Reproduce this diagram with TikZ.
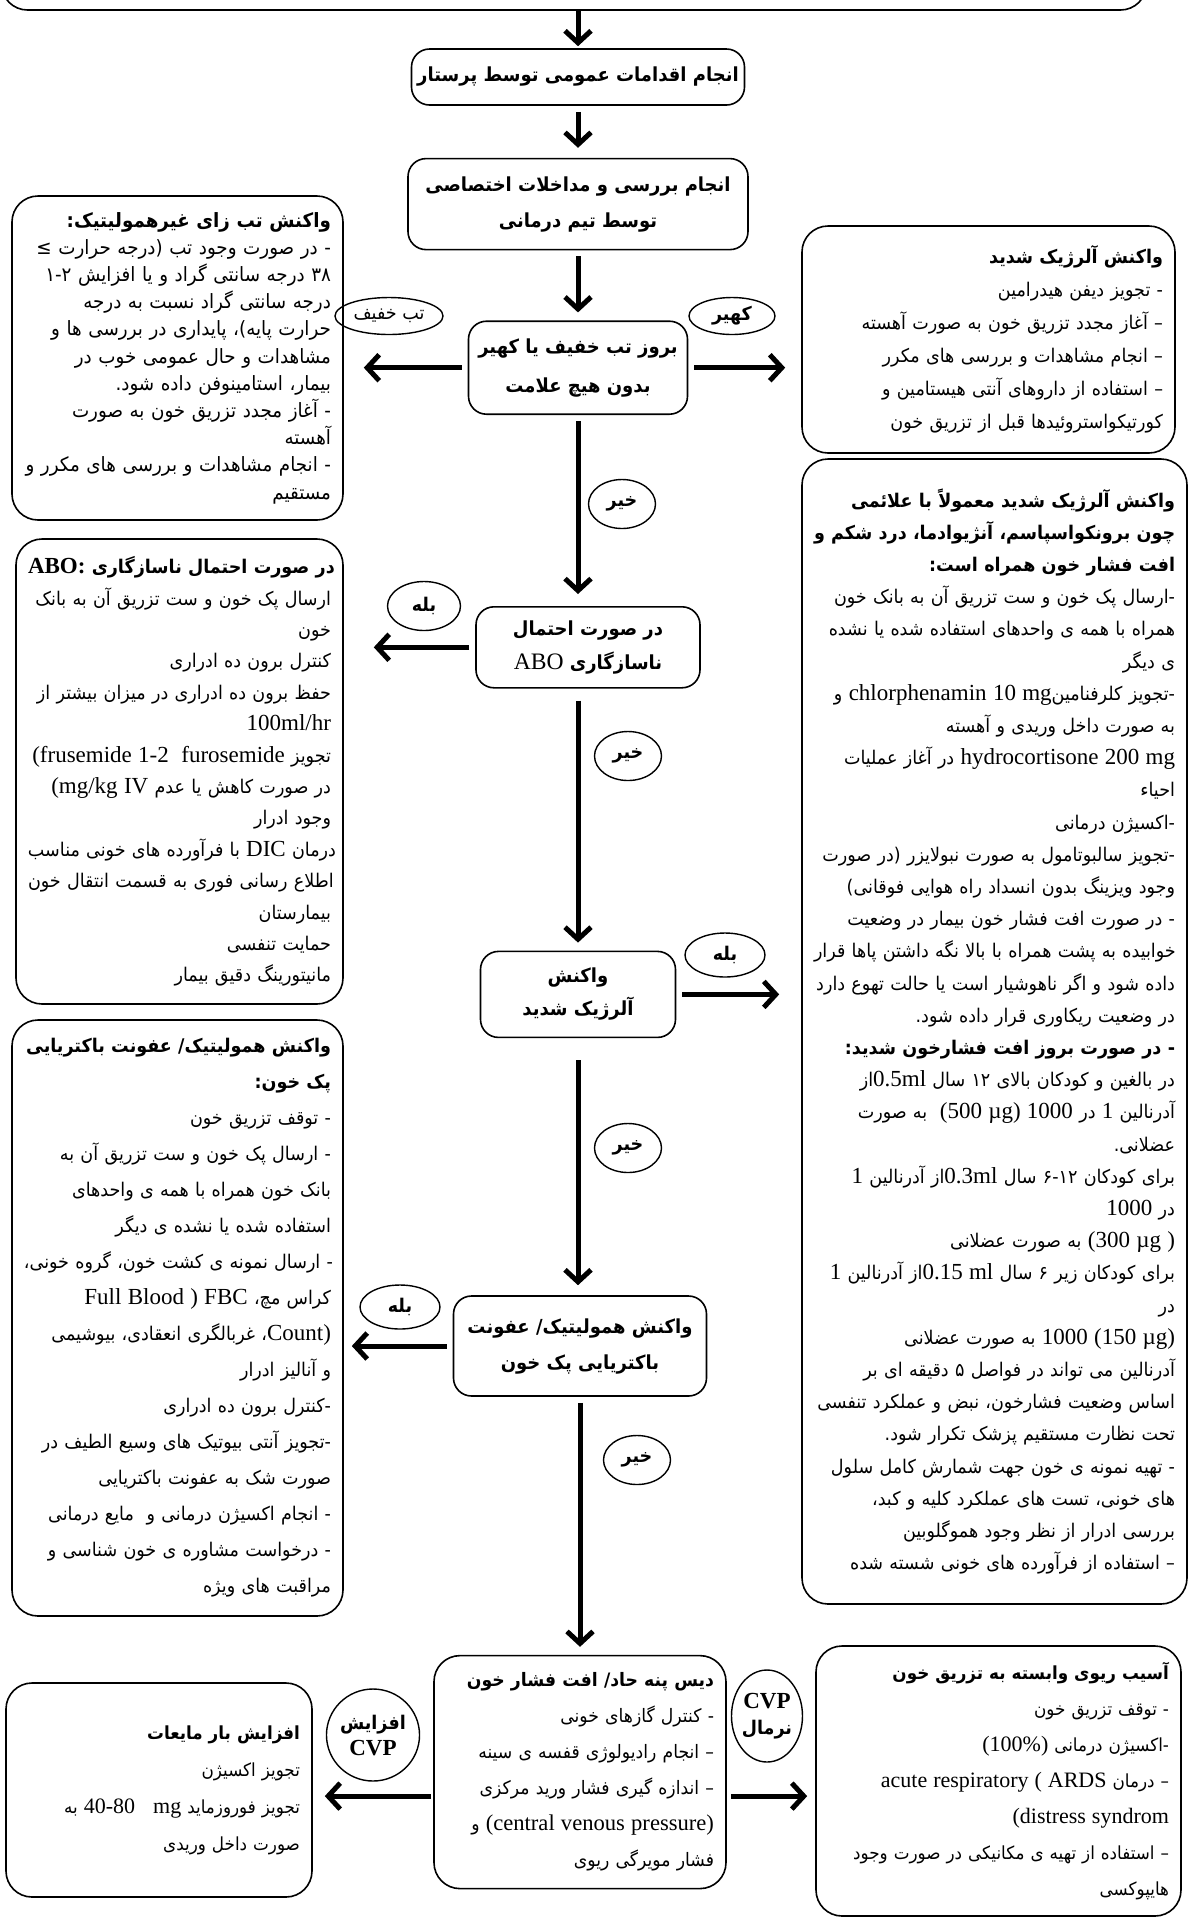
\documentclass[tikz,border=0pt]{standalone}
\usepackage{fontspec}
\setmainfont{Liberation Serif}
\newfontfamily\fa[Script=Arabic, Scale=0.82, FakeStretch=0.93]{DejaVu Sans}
\TeXXeTstate=1
\usetikzlibrary{arrows.meta, positioning, shapes.geometric}

\newcommand\rl[1]{\mbox{\beginR #1\endR}}
\newcommand\rlb[1]{\mbox{\beginR{\bfseries #1}\endR}}
\newcommand\lt[1]{\beginL{\rmfamily #1}\endL{}}

\begin{document}
\begin{tikzpicture}[x=0.5pt, y=-0.5pt,
  stage/.style={rectangle, rounded corners=9pt, draw, line width=0.8pt,
                align=center, inner sep=0pt,
                font=\fontsize{11.8}{18}\selectfont\fa\bfseries},
  panel/.style={rectangle, rounded corners=13pt, draw, line width=0.8pt,
                align=right, inner xsep=6pt, inner ysep=4pt,
                font=\fontsize{11}{16}\selectfont\fa},
  tag/.style={ellipse, draw, line width=0.7pt, inner sep=0pt,
              font=\fontsize{11.5}{13}\selectfont\fa\bfseries},
  arrow/.style={line width=2.5pt, -{Straight Barb[length=6pt, width=13pt]},
                shorten <=3pt, shorten >=4pt},
]
\useasboundingbox (0,0) rectangle (1191,1919);
\clip (0,0) rectangle (1191,1919);

% box cut off by the top edge
\node[panel, minimum width=572.5pt, minimum height=30pt] (top) at (574,-20) {};

% main column
\node[stage, minimum width=166.5pt, minimum height=28pt] (care) at (578,77)
  {\rl{انجام اقدامات عمومی توسط پرستار}};
\node[stage, minimum width=170pt, minimum height=45.5pt, below=26pt of care] (team)
  {\rl{انجام بررسی و مداخلات اختصاصی}\\\rl{توسط تیم درمانی}};
\node[stage, minimum width=109.5pt, minimum height=46.5pt, below=35pt of team,
      font=\fontsize{11.8}{19.5}\selectfont\fa\bfseries] (fever)
  {\rl{بروز تب خفیف یا کهیر}\\\rl{بدون هیچ علامت}};
\node[stage, minimum width=112pt, minimum height=40.5pt, below=95.5pt of fever,
      xshift=5pt, font=\fontsize{11.8}{17}\selectfont\fa\bfseries] (abo)
  {\rl{در صورت احتمال}\\\rl{ناسازگاری \lt{\mdseries ABO}}};
\node[stage, minimum width=97.5pt, minimum height=43pt, below=131pt of abo,
      xshift=-5pt, font=\fontsize{11.8}{16.5}\selectfont\fa\bfseries] (allergy)
  {\rl{واکنش}\\\rl{آلرژیک شدید}};
\node[stage, minimum width=126.5pt, minimum height=50pt, below=128.5pt of allergy,
      xshift=1pt] (hemolysis)
  {\rl{واکنش همولیتیک/ عفونت}\\\rl{باکتریایی پک خون}};
\node[panel, text width=134pt, minimum height=116.5pt, below=129pt of hemolysis,
      font=\fontsize{11.3}{18}\selectfont\fa] (dyspnea)
  {\rlb{دیس پنه حاد/ افت فشار خون}\\
   \rl{- کنترل گازهای خونی}\\
   \rl{– انجام رادیولوژی قفسه ی سینه}\\
   \rl{– اندازه گیری فشار ورید مرکزی}\\
   \rl{\lt{(central venous pressure)} و}\\
   \rl{فشار مویرگی ریوی}};

% side panels
\node[panel, text width=153.5pt, minimum height=162pt,
      font=\fontsize{12}{13.6}\selectfont\fa] (feverbox) at (177.5,358)
  {\rlb{واکنش تب زای غیرهمولیتیک:}\\
   \rl{- در صورت وجود تب (درجه حرارت ≥}\\
   \rl{۳۸ درجه سانتی گراد و یا افزایش ۱-۲}\\
   \rl{درجه سانتی گراد نسبت به درجه}\\
   \rl{حرارت پایه)، پایداری در بررسی ها و}\\
   \rl{مشاهدات و حال عمومی خوب در}\\
   \rl{بیمار، استامینوفن داده شود.}\\
   \rl{- آغاز مجدد تزریق خون به صورت}\\
   \rl{آهسته}\\
   \rl{- انجام مشاهدات و بررسی های مکرر و}\\
   \rl{مستقیم}};
\node[panel, text width=174.5pt, minimum height=113.5pt,
      font=\fontsize{11.5}{16.5}\selectfont\fa] (hivesbox) at (988.5,339.5)
  {\rlb{واکنش آلرژیک شدید}\\
   \rl{- تجویز دیفن هیدرامین}\\
   \rl{– آغاز مجدد تزریق خون به صورت آهسته}\\
   \rl{– انجام مشاهدات و بررسی های مکرر}\\
   \rl{– استفاده از داروهای آنتی هیستامین و}\\
   \rl{کورتیکواستروئیدها قبل از تزریق خون}};
\node[panel, text width=151.5pt, minimum height=232.5pt,
      font=\fontsize{11.5}{15.7}\selectfont\fa] (abobox) at (179.5,771.5)
  {\rlb{در صورت احتمال ناسازگاری \lt{ABO:}}\\
   \rl{ارسال پک خون و ست تزریق آن به بانک}\\
   \rl{خون}\\
   \rl{کنترل برون ده ادراری}\\
   \rl{حفظ برون ده ادراری در میزان بیشتر از}\\
   \rl{\lt{100ml/hr}}\\
   \rl{تجویز \lt{(frusemide 1-2\ \ furosemide}}\\
   \rl{در صورت کاهش یا عدم \lt{(mg/kg IV}}\\
   \rl{وجود ادرار}\\
   \rl{درمان \lt{DIC} با فرآورده های خونی مناسب}\\
   \rl{اطلاع رسانی فوری به قسمت انتقال خون}\\
   \rl{بیمارستان}\\
   \rl{حمایت تنفسی}\\
   \rl{مانیتورینگ دقیق بیمار}};
\node[panel, text width=180.5pt, minimum height=572.5pt,
      font=\fontsize{11.5}{16.1}\selectfont\fa] (allergybox) at (994.5,1031.5)
  {\rlb{واکنش آلرژیک شدید معمولاً با علائمی}\\
   \rlb{چون برونکواسپاسم، آنژیوادما، درد شکم و}\\
   \rlb{افت فشار خون همراه است:}\\
   \rl{-ارسال پک خون و ست تزریق آن به بانک خون}\\
   \rl{همراه با همه ی واحدهای استفاده شده یا نشده}\\
   \rl{ی دیگر}\\
   \rl{-تجویز کلرفنامین\lt{chlorphenamin 10 mg} و}\\
   \rl{به صورت داخل وریدی و آهسته}\\
   \rl{\lt{hydrocortisone 200 mg} در آغاز عملیات}\\
   \rl{احیاء}\\
   \rl{-اکسیژن درمانی}\\
   \rl{-تجویز سالبوتامول به صورت نبولایزر (در صورت}\\
   \rl{وجود ویزینگ بدون انسداد راه هوایی فوقانی)}\\
   \rl{- در صورت افت فشار خون بیمار در وضعیت}\\
   \rl{خوابیده به پشت همراه با بالا نگه داشتن پاها قرار}\\
   \rl{داده شود و اگر ناهوشیار است یا حالت تهوع دارد}\\
   \rl{در وضعیت ریکاوری قرار داده شود.}\\
   \rlb{- در صورت بروز افت فشارخون شدید:}\\
   \rl{در بالغین و کودکان بالای ۱۲ سال \lt{0.5ml}از}\\
   \rl{آدرنالین \lt{1} در \lt{1000} \lt{(500 µg)}\ \ به صورت}\\
   \rl{عضلانی.}\\
   \rl{برای کودکان ۶-۱۲ سال \lt{0.3ml}از آدرنالین \lt{1}}\\
   \rl{در \lt{1000}}\\
   \rl{\lt{(300 µg )} به صورت عضلانی}\\
   \rl{برای کودکان زیر ۶ سال \lt{0.15 ml}از آدرنالین \lt{1}}\\
   \rl{در}\\
   \rl{\lt{1000 (150 µg)} به صورت عضلانی}\\
   \rl{آدرنالین می تواند در فواصل ۵ دقیقه ای بر}\\
   \rl{اساس وضعیت فشارخون، نبض و عملکرد تنفسی}\\
   \rl{تحت نظارت مستقیم پزشک تکرار شود.}\\
   \rl{- تهیه نمونه ی خون جهت شمارش کامل سلول}\\
   \rl{های خونی، تست های عملکرد کلیه و کبد،}\\
   \rl{بررسی ادرار از نظر وجود هموگلوبین}\\
   \rl{– استفاده از فرآورده های خونی شسته شده}};
\node[panel, text width=153.5pt, minimum height=298pt,
      font=\fontsize{11.5}{18}\selectfont\fa] (hemobox) at (177.5,1318)
  {\rlb{واکنش همولیتیک/ عفونت باکتریایی}\\
   \rlb{پک خون:}\\
   \rl{- توقف تزریق خون}\\
   \rl{- ارسال پک خون و ست تزریق آن به}\\
   \rl{بانک خون همراه با همه ی واحدهای}\\
   \rl{استفاده شده یا نشده ی دیگر}\\
   \rl{- ارسال نمونه ی کشت خون، گروه خونی،}\\
   \rl{کراس مچ، \lt{Full Blood ) FBC}}\\
   \rl{\lt{Count)}، غربالگری انعقادی، بیوشیمی}\\
   \rl{و آنالیز ادرار}\\
   \rl{-کنترل برون ده ادراری}\\
   \rl{-تجویز آنتی بیوتیک های وسیع الطیف در}\\
   \rl{صورت شک به عفونت باکتریایی}\\
   \rl{- انجام اکسیژن درمانی و\ \ مایع درمانی}\\
   \rl{- درخواست مشاوره ی خون شناسی و}\\
   \rl{مراقبت های ویژه}};
\node[panel, text width=141pt, minimum height=107pt,
      font=\fontsize{11}{18.5}\selectfont\fa] (fluidbox) at (159,1790)
  {\rlb{افزایش بار مایعات}\\
   \rl{تجویز اکسیژن}\\
   \rl{تجویز فوروزماید \lt{40-80\ \ \ mg} به}\\
   \rl{صورت داخل وریدی}};
\node[panel, text width=170.5pt, minimum height=135pt,
      font=\fontsize{11}{18}\selectfont\fa] (lungbox) at (998.5,1781)
  {\rlb{آسیب ریوی وابسته به تزریق خون}\\
   \rl{- توقف تزریق خون}\\
   \rl{-اکسیژن درمانی \lt{(100\%)}}\\
   \rl{– درمان \lt{acute respiratory ( ARDS}}\\
   \rl{\lt{(distress syndrom}}\\
   \rl{– استفاده از تهیه ی مکانیکی در صورت وجود}\\
   \rl{هایپوکسی}};

% branch labels
\node[tag, minimum width=54pt, minimum height=18.5pt,
      font=\fontsize{11.5}{13}\selectfont\fa] (tMild) at (389,316) {\rl{تب خفیف}};
\node[tag, minimum width=43pt, minimum height=18.5pt] (tHives) at (732,316) {\rl{کهیر}};
\node[tag, minimum width=33.5pt, minimum height=24.5pt] (tNo1) at (622,504) {\rl{خیر}};
\node[tag, minimum width=36.5pt, minimum height=24.5pt] (tYes1) at (424,606) {\rl{بله}};
\node[tag, minimum width=33.5pt, minimum height=24.5pt] (tNo2) at (628,756) {\rl{خیر}};
\node[tag, minimum width=40pt, minimum height=22pt] (tYes2) at (725,955) {\rl{بله}};
\node[tag, minimum width=33.5pt, minimum height=24.5pt] (tNo3) at (628,1148) {\rl{خیر}};
\node[tag, minimum width=40pt, minimum height=22pt] (tYes3) at (400,1307) {\rl{بله}};
\node[tag, minimum width=33.5pt, minimum height=24.5pt] (tNo4) at (637,1460) {\rl{خیر}};
\node[tag, minimum width=33.5pt, minimum height=46pt, align=center] (tRise) at (373,1735)
  {\rl{افزایش}\\\lt{CVP}};
\node[tag, minimum width=35.5pt, minimum height=46pt, align=center] (tNormal) at (767,1716)
  {\lt{CVP}\\\rl{نرمال}};

% connectors
\draw[arrow, shorten <=0pt, shorten >=1pt] (top.south -| care) -- (care);
\draw[arrow, shorten >=5pt] (care) -- (team);
\draw[arrow] (team) -- (fever);
\draw[arrow, shorten >=6pt] (fever.south) -- (fever.south |- abo.north);
\draw[arrow, shorten <=6pt] (allergy.north |- abo.south) -- (allergy.north);
\draw[arrow, shorten <=11pt, shorten >=5pt] (allergy.south) -- (allergy.south |- hemolysis.north);
\draw[arrow] (hemolysis.south) -- (hemolysis.south |- dyspnea.north);
\draw[arrow, shorten >=10pt] (fever.west) -- (fever.west -| feverbox.east);
\draw[arrow, shorten >=8pt] (fever.east) -- (fever.east -| hivesbox.west);
\draw[arrow, shorten >=15pt] (abo.west) -- (abo.west -| abobox.east);
\draw[arrow, shorten >=11pt] (allergy.east) -- (allergy.east -| allergybox.west);
\draw[arrow] (hemolysis.west) -- (hemolysis.west -| hemobox.east);
\draw[arrow, shorten <=1pt, shorten >=6pt] ([yshift=-12pt]dyspnea.west) -- ([yshift=-12pt]dyspnea.west -| fluidbox.east);
\draw[arrow, shorten <=2pt] ([yshift=-12pt]dyspnea.east) -- ([yshift=-12pt]dyspnea.east -| lungbox.west);

\end{tikzpicture}
\end{document}
